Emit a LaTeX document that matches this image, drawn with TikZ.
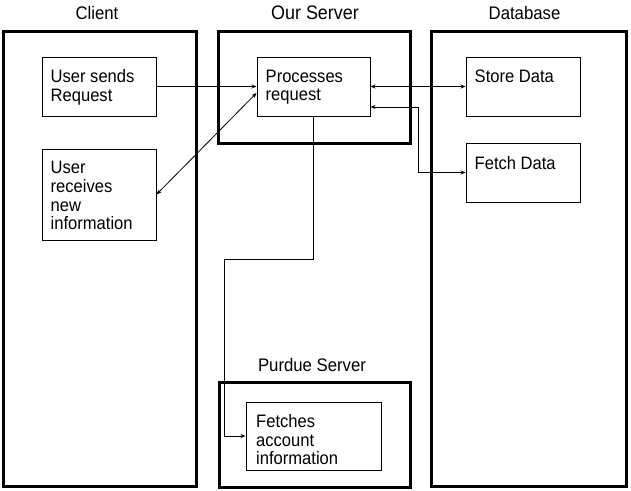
\documentclass[tikz,border=0pt]{standalone}
\usepackage{fontspec}
\setmainfont[FakeStretch=0.92]{Liberation Sans}
\usetikzlibrary{arrows.meta,calc,fit}
\begin{document}
\begin{tikzpicture}[x=1pt,y=-1pt,
  big/.style={draw, line width=3pt, inner sep=0pt},
  small/.style={draw, line width=1pt, inner sep=0pt},
  txt/.style={anchor=north west, align=left, inner sep=0pt, font=\fontsize{18}{18.8}\selectfont},
  ttl/.style={anchor=base, inner sep=0pt, font=\fontsize{18.2}{20}\selectfont},
  tip/.tip={Stealth[length=5pt,width=4pt]},
  conn/.style={line width=0.8pt, -tip},
  conn2/.style={line width=0.8pt, tip-tip}]
\useasboundingbox (0,0) rectangle (631,490);

% containers
\node[big, fit={(3,31) (196,486)}] (client) {};
\node[big, fit={(218,31) (410,143)}] (server) {};
\node[big, fit={(431,31) (626,486)}] (db) {};
\node[big, fit={(219,382) (410,487)}] (purdue) {};

% titles
\node[ttl] (tclient) at (97,19) {Client};
\node[ttl, font=\fontsize{19.5}{22}\selectfont] (tserver) at (315,19) {Our Server};
\node[ttl] (tdb) at (524.5,19) {Database};
\node[ttl] (tpurdue) at (312,371) {Purdue Server};

% inner boxes
\node[small, fit={(42,57) (156,116)}] (us) {};
\node[small, fit={(42,149) (156,240)}] (ur) {};
\node[small, fit={(257,57) (370,116)}] (pr) {};
\node[small, fit={(466,57) (580,116)}] (sd) {};
\node[small, fit={(466,143) (580,202)}] (fd) {};
\node[small, fit={(246,402) (381,470)}] (fa) {};

% texts
\node[txt] (tus) at ($(us.north west)+(9,13)$) {User sends\\Request};
\node[txt] (tur) at ($(ur.north west)+(9,12.5)$) {User\\receives\\new\\information};
\node[txt] (tpr) at ($(pr.north west)+(9,13)$) {Processes\\request};
\node[txt] (tsd) at ($(sd.north west)+(9,13.5)$) {Store Data};
\node[txt] (tfd) at ($(fd.north west)+(9,13.5)$) {Fetch Data};
\node[txt] (tfa) at ($(fa.north west)+(10.5,12.5)$) {Fetches\\account\\information};

% connectors
\draw[conn] (us.east) -- (us.east -| pr.west);
\draw[conn2] ($(pr.west)+(0,6.5)$) -- (ur.east);
\draw[conn2] (pr.east) -- (pr.east -| sd.west);
\draw[conn2] ($(pr.east)+(0,20.5)$) -| ($(fd.west)+(-47,0)$) -- (fd.west);
\coordinate (k2) at (224,259);
\draw[conn] (pr.south) |- (k2) |- (fa.west);
\end{tikzpicture}
\end{document}
